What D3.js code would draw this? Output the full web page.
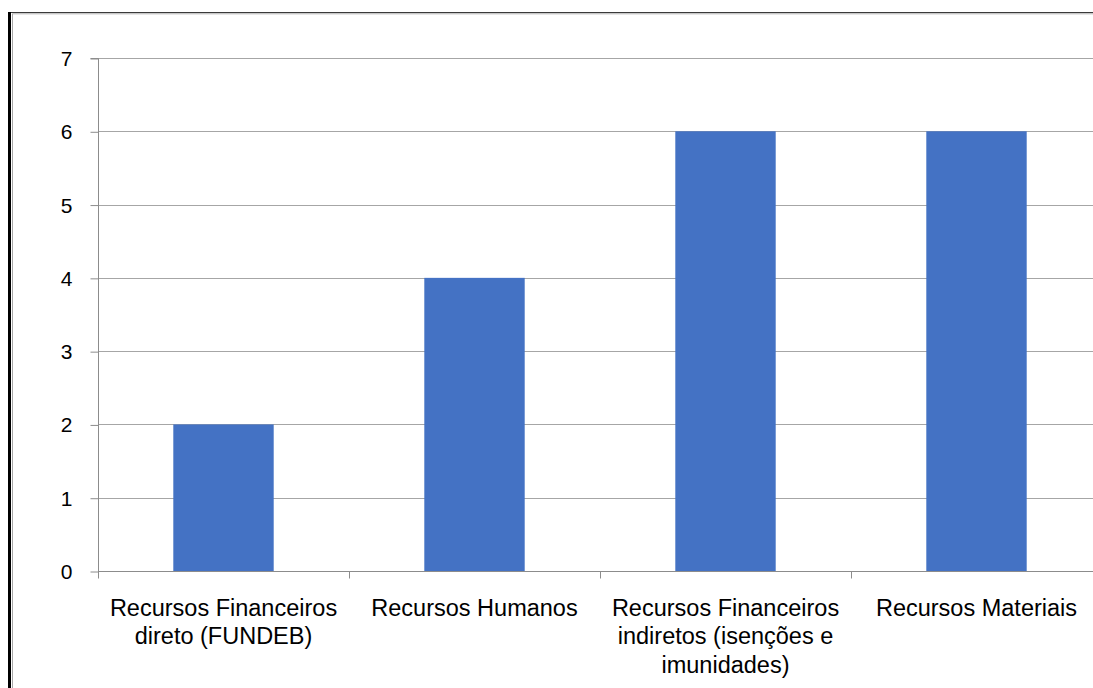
<!DOCTYPE html>
<html>
<head>
<meta charset="utf-8">
<script src="https://cdn.jsdelivr.net/npm/d3@7"></script>
<style>
  html, body { margin: 0; padding: 0; background: #fff; }
  svg { display: block; }
  text { font-family: "Liberation Sans", Arial, sans-serif; fill: #000; }
</style>
</head>
<body>
<svg id="chart" width="1093" height="688"></svg>
<script>
// Resource types and their counts
const categories = [
  "Recursos Financeiros direto (FUNDEB)",
  "Recursos Humanos",
  "Recursos Financeiros indiretos (isenções e imunidades)",
  "Recursos Materiais"
];
const values = [2, 4, 6, 6];
const yTicks = [0, 1, 2, 3, 4, 5, 6, 7];

const FONT = "'Liberation Sans', Arial, sans-serif";
const svg = d3.select("#chart");
const W = 1093, H = 688;

// Frame lines along the top and left edge
svg.append("line").attr("x1", 9.5).attr("x2", W).attr("y1", 12.5).attr("y2", 12.5)
  .attr("stroke", "#3a3a3a").attr("stroke-width", 1.2);
svg.append("line").attr("x1", 12).attr("x2", W).attr("y1", 13.8).attr("y2", 13.8)
  .attr("stroke", "#b0b0b0").attr("stroke-width", 1);
svg.append("line").attr("x1", 9.5).attr("x2", 9.5).attr("y1", 12).attr("y2", H)
  .attr("stroke", "#000").attr("stroke-width", 3);
svg.append("line").attr("x1", 12.5).attr("x2", 12.5).attr("y1", 14).attr("y2", H)
  .attr("stroke", "#a8a8a8").attr("stroke-width", 1);

const plot = { left: 98, right: 1102, top: 58, bottom: 571 };

const x = d3.scaleBand().domain(categories)
  .range([plot.left, plot.right]).paddingInner(0.6).paddingOuter(0.3);
const xTick = d3.scaleBand().domain(categories).range([plot.left, plot.right]);
const y = d3.scaleLinear().domain([0, 7]).range([plot.bottom, plot.top]);

// Horizontal gridlines
svg.append("g").selectAll("line").data(yTicks.filter(d => d > 0)).join("line")
  .attr("x1", plot.left).attr("x2", plot.right)
  .attr("y1", d => Math.round(y(d)) + 0.5).attr("y2", d => Math.round(y(d)) + 0.5)
  .attr("stroke", "#a6a6a6").attr("stroke-width", 1);

// Bars
svg.append("g").selectAll("rect").data(values).join("rect")
  .attr("x", (d, i) => x(categories[i]))
  .attr("width", x.bandwidth())
  .attr("y", d => y(d))
  .attr("height", d => y(0) - y(d))
  .attr("fill", "#4472C4");

// Y axis
const yAxis = d3.axisLeft(y).tickValues(yTicks).tickSize(8).tickPadding(18)
  .tickFormat(d3.format("d"));
const gy = svg.append("g").attr("transform", `translate(${plot.left + 0.5},0)`).call(yAxis);
gy.select(".domain").attr("stroke", "#8c8c8c").attr("d", `M-8,${plot.top + 0.5}H0V${plot.bottom + 0.5}`);
gy.selectAll(".tick line").attr("stroke", "#8c8c8c").attr("transform", "translate(0,0.5)");
gy.selectAll(".tick text").attr("font-size", 21).attr("dy", "0.36em").style("font-family", FONT);

// X axis baseline and category ticks
const gx = svg.append("g").attr("transform", `translate(0,${plot.bottom + 0.5})`);
gx.append("line").attr("x1", plot.left).attr("x2", plot.right)
  .attr("stroke", "#8c8c8c");
const boundaries = categories.map(c => xTick(c)).concat([plot.right]);
gx.selectAll("line.tk").data(boundaries).join("line").attr("class", "tk")
  .attr("x1", d => Math.round(d) + 0.5).attr("x2", d => Math.round(d) + 0.5)
  .attr("y1", 0).attr("y2", 7).attr("stroke", "#8c8c8c");

// Category labels, word-wrapped to the band width
const maxW = 240;
const labels = gx.selectAll("text.cat").data(categories).join("text").attr("class", "cat")
  .attr("text-anchor", "middle").attr("font-size", 23.5).style("font-family", FONT)
  .attr("transform", d => `translate(${xTick(d) + xTick.bandwidth() / 2},0)`);
labels.each(function(d) {
  const t = d3.select(this);
  const words = d.split(" ");
  let lines = [], cur = [];
  const probe = t.append("tspan");
  words.forEach(w => {
    const trial = cur.concat([w]).join(" ");
    probe.text(trial);
    if (probe.node().getComputedTextLength() > maxW && cur.length) {
      lines.push(cur.join(" "));
      cur = [w];
    } else cur.push(w);
  });
  lines.push(cur.join(" "));
  probe.remove();
  lines.forEach((l, i) => t.append("tspan").attr("x", 0).attr("y", 44 + i * 28.5).text(l));
});
</script>
</body>
</html>
